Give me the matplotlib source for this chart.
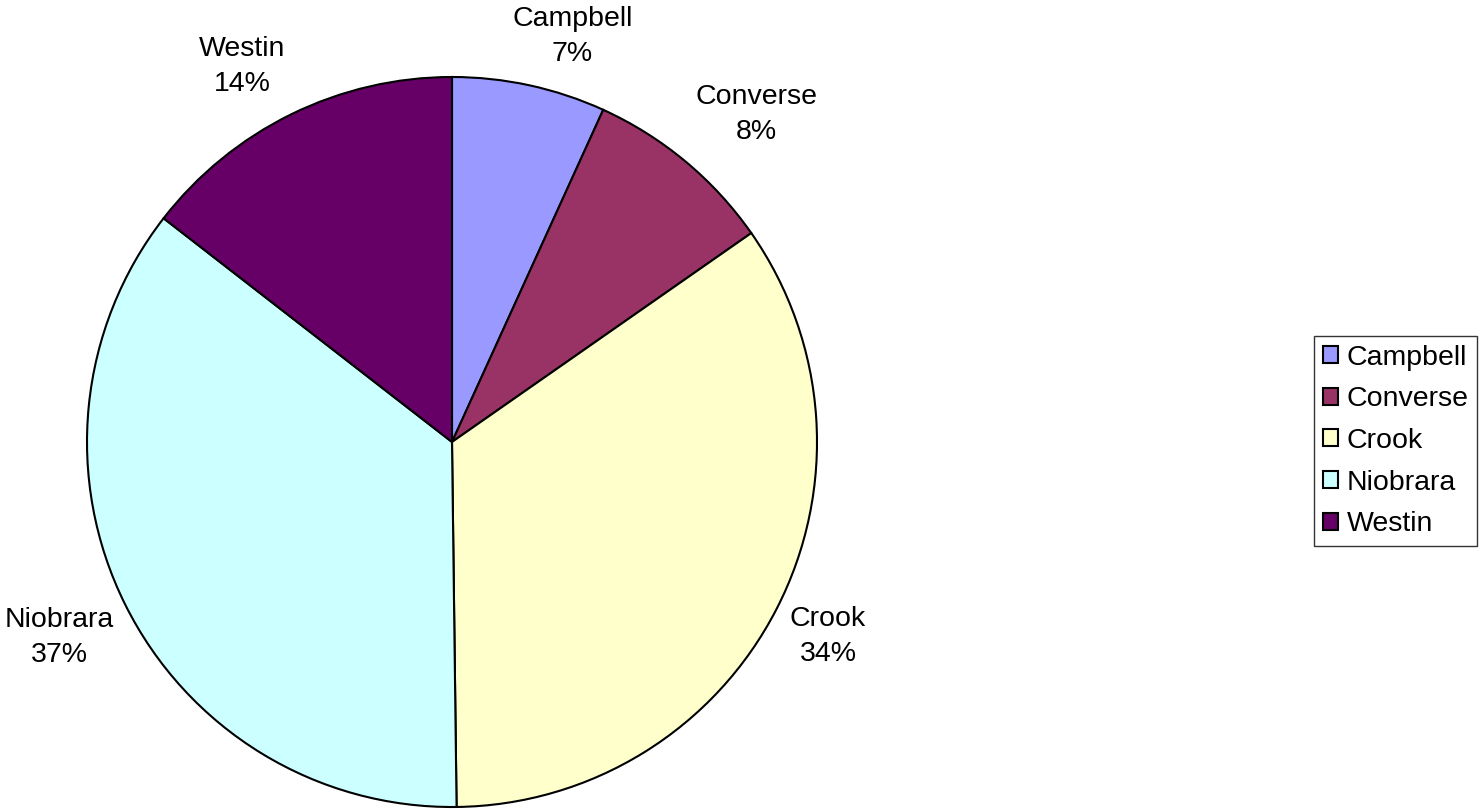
import matplotlib.pyplot as plt
from matplotlib.patches import Patch

plt.rcParams['font.family'] = ['Liberation Sans', 'DejaVu Sans']

counties = ['Campbell', 'Converse', 'Crook', 'Niobrara', 'Westin']
shares = [6.8, 8.5, 34.5, 35.7, 14.5]
pct_labels = ['7%', '8%', '34%', '37%', '14%']
colors = ['#9999FF', '#993366', '#FFFFCC', '#CCFFFF', '#660066']

fig = plt.figure(figsize=(14.8, 8.09), dpi=100)
W, H = 1480, 809
cx, cy, r = 452, 442, 365
ax = fig.add_axes([(cx - r) / W, (H - cy - r) / H, 2 * r / W, 2 * r / H])

labels = [f'{c}\n{p}' for c, p in zip(counties, pct_labels)]
wedges, texts = ax.pie(shares, colors=colors, startangle=90, counterclock=False,
                       labels=labels, labeldistance=1.17,
                       wedgeprops=dict(edgecolor='black', linewidth=1.5),
                       textprops=dict(fontsize=20.5, color='black', linespacing=1.45))

# Excel pushes the labels a bit sideways; small nudges in pixels (x right, y down)
nudges = [(30, 12), (31, 1), (-4, -1), (-10, 5), (-22, 8)]
for t, (dx, dy) in zip(texts, nudges):
    t.set_ha('center')
    t.set_va('center')
    t.set_multialignment('center')
    x, y = t.get_position()
    t.set_position((x + dx / r, y - dy / r))

ax.set_xlim(-1, 1)
ax.set_ylim(-1, 1)
ax.set_aspect('equal')
ax.axis('off')

handles = [Patch(facecolor=c, edgecolor='black', linewidth=1.5) for c in colors]
leg = fig.legend(handles, counties, loc='upper left',
                 bbox_to_anchor=(1314 / W, 1 - 336 / H),
                 fontsize=20.5, frameon=True, fancybox=False,
                 handlelength=0.55, handleheight=0.55, handletextpad=0.3,
                 labelspacing=0.55, borderpad=0.3, borderaxespad=0)
leg.get_frame().set_edgecolor('black')
leg.get_frame().set_linewidth(1)

fig.savefig('out.png', dpi=100)
